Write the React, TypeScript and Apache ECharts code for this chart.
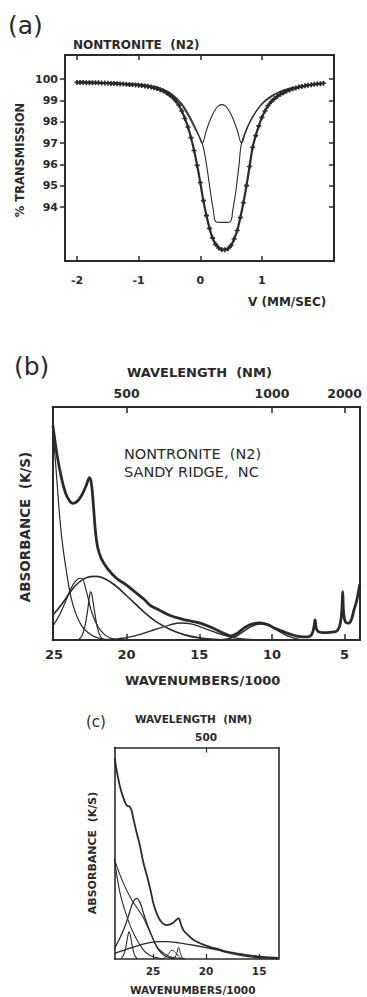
import React, { useEffect, useRef } from 'react';
import * as echarts from 'echarts';

const FONT = "'DejaVu Sans', 'Liberation Sans', sans-serif";
const INK = '#2a2a2a';

// ---------- (a) Mossbauer spectrum ----------
const aXTicks = [-2, -1, 0, 1];
const aYTicks = [94, 95, 96, 97, 98, 99, 100];
const mossVelocity = [
  -2.0, -1.95, -1.9, -1.85, -1.8, -1.75, -1.7, -1.65, -1.6, -1.55, -1.5, -1.45, -1.4, -1.35, -1.3, -1.25,
  -1.2, -1.15, -1.1, -1.05, -1.0, -0.95, -0.9, -0.85, -0.8, -0.75, -0.7, -0.65, -0.6, -0.55, -0.5, -0.45,
  -0.4, -0.35, -0.3, -0.25, -0.2, -0.15, -0.1, -0.05, 0.0, 0.05, 0.1, 0.15, 0.2, 0.25, 0.3, 0.35, 0.4, 0.45,
  0.5, 0.55, 0.6, 0.65, 0.7, 0.75, 0.8, 0.85, 0.9, 0.95, 1.0, 1.05, 1.1, 1.15, 1.2, 1.25, 1.3, 1.35, 1.4,
  1.45, 1.5, 1.55, 1.6, 1.65, 1.7, 1.75, 1.8, 1.85, 1.9, 1.95, 2.0,
];
const mossTransmission = [
  99.84, 99.84, 99.84, 99.83, 99.83, 99.83, 99.82, 99.82, 99.81, 99.81, 99.8, 99.79, 99.79, 99.78, 99.77, 99.76,
  99.75, 99.74, 99.73, 99.72, 99.71, 99.69, 99.67, 99.65, 99.62, 99.59, 99.55, 99.5, 99.44, 99.36, 99.26, 99.14,
  98.98, 98.78, 98.5, 98.15, 97.75, 97.25, 96.65, 95.95, 95.15, 94.3, 93.6, 93.0, 92.55, 92.25, 92.08, 92.0, 92.0, 92.05,
  92.2, 92.5, 92.9, 93.5, 94.2, 95.0, 95.9, 96.8, 97.35, 97.8, 98.2, 98.5, 98.75, 98.93, 99.07, 99.18, 99.28, 99.36, 99.43,
  99.49, 99.54, 99.58, 99.62, 99.65, 99.68, 99.71, 99.73, 99.75, 99.77, 99.78, 99.8,
];
const doubletNarrow: [number, number][] = [
  [-2.0, 99.86], [-1.5, 99.83], [-1.0, 99.75], [-0.8, 99.68], [-0.6, 99.52], [-0.45, 99.28], [-0.3, 98.85],
  [-0.2, 98.4], [-0.1, 97.85], [-0.03, 97.4], [0.03, 97.0], [0.1, 97.6], [0.17, 98.15], [0.24, 98.55],
  [0.3, 98.75], [0.35, 98.8], [0.4, 98.75], [0.46, 98.55], [0.53, 98.15], [0.6, 97.6], [0.67, 97.0],
  [0.73, 97.45], [0.8, 97.95], [0.9, 98.45], [1.0, 98.85], [1.15, 99.2], [1.35, 99.48], [1.6, 99.66], [2.0, 99.8],
];
const doubletWide: [number, number][] = [
  [-2.0, 99.86], [-1.0, 99.75], [-0.6, 99.5], [-0.4, 99.1], [-0.25, 98.55], [-0.1, 97.75], [0.03, 97.0],
  [0.1, 96.0], [0.16, 94.8], [0.21, 93.9], [0.26, 93.3], [0.37, 93.28], [0.48, 93.3], [0.53, 93.9],
  [0.58, 94.8], [0.63, 96.0], [0.67, 97.0], [0.78, 97.85], [0.9, 98.45], [1.05, 98.95], [1.3, 99.4],
  [1.6, 99.65], [2.0, 99.8],
];

// ---------- (b) reflectance spectrum ----------
const bBottomTicks = [25, 20, 15, 10, 5];
const bInnerTicks = [20, 15, 10, 5];
const bTopTicks = [20, 10, 5];
const bTopLabels = ['500', '1000', '2000'];
const bEnvelope: [number, number][] = [
  [25.07, 92], [24.8, 80], [24.5, 70], [24.2, 63], [23.9, 59.5], [23.7, 58.6], [23.4, 59.5], [23.1, 62],
  [22.8, 66], [22.55, 69.7], [22.42, 67], [22.3, 59], [22.15, 47], [22.0, 40], [21.75, 35], [21.3, 30.5],
  [20.7, 26.5], [20.0, 23.5], [19.4, 20.5], [18.8, 17.5], [18.4, 15], [17.8, 13], [17.0, 10.5], [16.2, 9],
  [15.4, 7.9], [14.6, 6.5], [13.8, 4.3], [13.2, 2.6], [12.85, 1.8], [12.4, 2.8], [11.95, 5], [11.4, 6.8],
  [10.82, 7.3], [10.3, 6.6], [9.8, 5], [9.22, 3.6], [8.7, 2.4], [8.29, 1.7], [7.6, 1.3], [7.25, 2.5],
  [7.1, 6], [7.03, 8.6], [6.95, 5], [6.81, 3.6], [6.5, 3.2], [6.0, 3.3], [5.55, 3.8], [5.3, 7], [5.18, 14],
  [5.13, 20.7], [5.07, 12], [4.95, 7.8], [4.75, 7.2], [4.55, 8.5], [4.35, 13], [4.2, 16], [4.1, 19], [3.95, 24],
];
const bEdge: [number, number][] = [
  [25.07, 90], [24.84, 72], [24.5, 46], [24.08, 27], [23.69, 15], [23.12, 6.4], [22.43, 2.1], [21.8, 0.6],
  [21.0, 0.1], [20.0, 0],
];
const bBand23: [number, number][] = [
  [25.07, 6], [24.6, 11], [24.2, 16.5], [23.8, 22.5], [23.4, 26], [23.12, 26.5], [22.77, 21], [22.43, 12.5],
  [22.0, 6], [21.5, 2.2], [21.0, 0.6], [20.3, 0],
];
const bBand22: [number, number][] = [
  [25.07, 10.7], [24.5, 15], [24.0, 19.5], [23.5, 23.5], [23.0, 26], [22.5, 27.2], [22.1, 27.3], [21.5, 26.3],
  [20.8, 23.5], [20.0, 19], [19.4, 15.5], [18.8, 12], [18.0, 8], [17.0, 4.5], [16.0, 2.2], [15.0, 0.9],
  [14.0, 0.3], [13.0, 0],
];
const bSharp22: [number, number][] = [
  [23.3, 0.2], [23.1, 1.5], [22.9, 5], [22.7, 12], [22.55, 19], [22.47, 20.7], [22.38, 19], [22.2, 12],
  [22.0, 5], [21.8, 1.5], [21.6, 0.3], [21.3, 0],
];
const bBand16: [number, number][] = [
  [21.5, 0], [21.0, 0.3], [20.0, 1], [19.0, 2.5], [18.0, 4.6], [17.0, 6.5], [16.3, 7.3], [15.5, 6.8],
  [14.5, 4.7], [13.5, 2.4], [12.5, 0.8], [11.5, 0.2], [11.0, 0],
];
const bBand11: [number, number][] = [
  [13.8, 0], [13.2, 0.3], [12.5, 1.5], [12.0, 3.5], [11.5, 5.5], [11.0, 6.7], [10.6, 6.9], [10.2, 6.3],
  [9.7, 4.5], [9.2, 2.6], [8.7, 1.2], [8.2, 0.4], [7.7, 0],
];

// ---------- (c) enlarged visible region ----------
const cBottomTicks = [25, 20, 15];
const cTopTicks = [20];
const cTopLabels = ['500'];
const cEnvelope: [number, number][] = [
  [28.6, 95], [28.3, 86], [28.0, 79.5], [27.7, 75], [27.45, 72.5], [27.2, 72], [27.0, 70], [26.83, 66],
  [26.5, 59], [26.2, 53], [25.9, 45.5], [25.57, 39.5], [25.25, 33], [24.94, 26], [24.6, 21], [24.31, 18.2],
  [24.0, 16.5], [23.68, 16], [23.35, 16.5], [23.06, 17.3], [22.8, 18.5], [22.58, 19.2], [22.4, 17],
  [22.26, 15], [22.11, 13.5], [21.6, 10.8], [21.17, 9], [20.5, 7.3], [19.59, 5.6], [18.96, 4.8],
  [18.02, 3.5], [17.2, 2.7], [16.45, 2.1], [15.6, 1.5], [14.88, 1.1], [13.93, 0.8], [13.2, 0.5],
];
const cEdgeSteep: [number, number][] = [
  [28.62, 47], [28.09, 31], [27.45, 20], [27.0, 14], [26.5, 9], [26.0, 5], [25.6, 2.7], [25.0, 1.1], [24.5, 0.5], [24.0, 0],
];
const cEdgeWide: [number, number][] = [
  [28.62, 47], [27.8, 36], [27.0, 28], [26.2, 22], [25.9, 19.5], [25.3, 13], [24.62, 5.8], [24.0, 2.8],
  [23.37, 1.1], [22.5, 0.3], [22.0, 0],
];
const cBand26: [number, number][] = [
  [28.62, 5], [28.1, 10], [27.6, 16], [27.2, 22], [26.9, 26.5], [26.55, 28.7], [26.2, 26.5], [25.89, 21.6],
  [25.4, 14.5], [24.94, 9], [24.5, 4.5], [24.0, 1.9], [23.5, 0.6], [23.0, 0.1],
];
const cSharp27: [number, number][] = [
  [28.0, 0.3], [27.8, 1.5], [27.6, 4.5], [27.4, 10], [27.25, 12.9], [27.1, 10.5], [26.9, 5], [26.7, 1.5], [26.5, 0.3],
];
const cBroad: [number, number][] = [
  [28.62, 2.7], [27.5, 4.5], [26.5, 6.2], [25.5, 7.5], [24.5, 8.2], [23.7, 8.2], [22.8, 7.8], [22.0, 7.2],
  [21.17, 6.5], [20.0, 5.4], [18.96, 4.3], [18.0, 3], [17.0, 1.9], [16.0, 1.1], [15.0, 0.6], [14.0, 0.3], [13.2, 0.1],
];
const cSmall23: [number, number][] = [
  [24.0, 0.2], [23.6, 2], [23.2, 4.2], [22.8, 2.5], [22.4, 0.5], [22.1, 0],
];
const cSharp22: [number, number][] = [
  [23.0, 0.2], [22.8, 2], [22.58, 5.5], [22.4, 2.5], [22.2, 0.3], [22.0, 0],
];

const axisLineStyle = (w: number) => ({ show: true, onZero: false, lineStyle: { color: INK, width: w } });

function txt(text: string, x: number, y: number, size: number, bold: boolean, opts: any = {}) {
  return {
    type: 'text',
    x,
    y,
    rotation: opts.rotation || 0,
    silent: true,
    style: {
      text,
      fill: INK,
      font: `${bold ? 'bold ' : ''}${size}px ${FONT}`,
      align: opts.align || 'left',
      textAlign: opts.align || 'left',
      verticalAlign: 'middle',
      textVerticalAlign: 'middle',
    },
  };
}

function thin(data: [number, number][], idx: number, width = 1.2) {
  return {
    type: 'line',
    xAxisIndex: idx,
    yAxisIndex: idx,
    data,
    smooth: 0.4,
    showSymbol: false,
    silent: true,
    lineStyle: { color: INK, width },
  };
}

export default function App() {
  const ref = useRef<HTMLDivElement>(null);
  useEffect(() => {
    if (!ref.current) return;
    const chart = echarts.init(ref.current, null, { renderer: 'svg' });
    const labelFont = { color: INK, fontFamily: FONT, fontWeight: 'bold' as const };

    const option: any = {
      animation: false,
      backgroundColor: '#ffffff',
      grid: [
        { left: 65, top: 55, width: 269, height: 206, outerBoundsMode: 'none' },
        { left: 52.5, top: 407, width: 307.5, height: 233, outerBoundsMode: 'none' },
        { left: 114.5, top: 747.5, width: 164, height: 211.5, outerBoundsMode: 'none' },
      ],
      xAxis: [
        {
          type: 'value', gridIndex: 0, position: 'bottom', min: -2.195, max: 2.17,
          axisLine: axisLineStyle(2), splitLine: { show: false },
          axisTick: { show: true, inside: true, length: 5, customValues: aXTicks, lineStyle: { color: INK, width: 1.5 } },
          axisLabel: { ...labelFont, fontSize: 11, margin: 14, customValues: aXTicks },
        },
        {
          type: 'value', gridIndex: 1, position: 'bottom', min: 3.94, max: 25.1, inverse: true,
          axisLine: axisLineStyle(2), splitLine: { show: false },
          axisTick: { show: true, inside: true, length: 6, customValues: bInnerTicks, lineStyle: { color: INK, width: 1.5 } },
          axisLabel: { ...labelFont, fontSize: 13, margin: 8, customValues: bBottomTicks },
        },
        {
          type: 'value', gridIndex: 2, position: 'bottom', min: 13.18, max: 28.62, inverse: true,
          axisLine: axisLineStyle(1.6), splitLine: { show: false },
          axisTick: { show: true, inside: true, length: 5, customValues: cBottomTicks, lineStyle: { color: INK, width: 1.2 } },
          axisLabel: { ...labelFont, fontSize: 10.5, margin: 6, customValues: cBottomTicks },
        },
        {
          type: 'value', gridIndex: 0, position: 'top', min: -2.195, max: 2.17,
          axisLine: axisLineStyle(2), splitLine: { show: false },
          axisTick: { show: true, inside: true, length: 5, customValues: aXTicks, lineStyle: { color: INK, width: 1.5 } },
          axisLabel: { show: false },
        },
        {
          type: 'value', gridIndex: 1, position: 'top', min: 3.94, max: 25.1, inverse: true,
          axisLine: axisLineStyle(2), splitLine: { show: false },
          axisTick: { show: true, inside: true, length: 6, customValues: bTopTicks, lineStyle: { color: INK, width: 1.5 } },
          axisLabel: {
            ...labelFont, fontSize: 12.5, margin: 7, customValues: bTopTicks,
            formatter: (v: number) => bTopLabels[bTopTicks.indexOf(v)] ?? '',
          },
        },
        {
          type: 'value', gridIndex: 2, position: 'top', min: 13.18, max: 28.62, inverse: true,
          axisLine: axisLineStyle(1.6), splitLine: { show: false },
          axisTick: { show: true, inside: true, length: 5, customValues: cTopTicks, lineStyle: { color: INK, width: 1.2 } },
          axisLabel: {
            ...labelFont, fontSize: 10.5, margin: 5, customValues: cTopTicks,
            formatter: (v: number) => cTopLabels[cTopTicks.indexOf(v)] ?? '',
          },
        },
      ],
      yAxis: [
        {
          type: 'value', gridIndex: 0, position: 'left', min: 91.47, max: 101.125,
          axisLine: axisLineStyle(2), splitLine: { show: false },
          axisTick: { show: true, inside: false, length: 5, customValues: aYTicks, lineStyle: { color: INK, width: 1.5 } },
          axisLabel: { ...labelFont, fontSize: 11, margin: 7, customValues: aYTicks },
        },
        {
          type: 'value', gridIndex: 1, position: 'left', min: 0, max: 100,
          axisLine: axisLineStyle(2), splitLine: { show: false }, axisTick: { show: false }, axisLabel: { show: false },
        },
        {
          type: 'value', gridIndex: 2, position: 'left', min: 0, max: 100,
          axisLine: axisLineStyle(1.6), splitLine: { show: false }, axisTick: { show: false }, axisLabel: { show: false },
        },
        {
          type: 'value', gridIndex: 0, position: 'right', min: 91.47, max: 101.125,
          axisLine: axisLineStyle(2), splitLine: { show: false },
          axisTick: { show: true, inside: true, length: 5, customValues: aYTicks, lineStyle: { color: INK, width: 1.5 } },
          axisLabel: { show: false },
        },
        {
          type: 'value', gridIndex: 1, position: 'right', min: 0, max: 100,
          axisLine: axisLineStyle(2), splitLine: { show: false }, axisTick: { show: false }, axisLabel: { show: false },
        },
        {
          type: 'value', gridIndex: 2, position: 'right', min: 0, max: 100,
          axisLine: axisLineStyle(1.6), splitLine: { show: false }, axisTick: { show: false }, axisLabel: { show: false },
        },
      ],
      series: [
        {
          type: 'line', xAxisIndex: 0, yAxisIndex: 0, silent: true,
          data: mossVelocity.map((v, i) => [v, mossTransmission[i]]),
          symbol: 'path://M-1,-3H1V-1H3V1H1V3H-1V1H-3V-1H-1Z', symbolSize: 5, showSymbol: true, showAllSymbol: true,
          itemStyle: { color: INK }, lineStyle: { color: INK, width: 2.2 }, smooth: 0.3,
        },
        thin(doubletNarrow, 0, 1.1),
        thin(doubletWide, 0, 1.1),
        thin(bEnvelope, 1, 2.8),
        thin(bEdge, 1),
        thin(bBand23, 1),
        thin(bBand22, 1, 1.6),
        thin(bSharp22, 1),
        thin(bBand16, 1, 1.4),
        thin(bBand11, 1, 1.4),
        thin(cEnvelope, 2, 1.8),
        thin(cEdgeSteep, 2, 1.1),
        thin(cEdgeWide, 2, 1.1),
        thin(cBand26, 2, 1.3),
        thin(cSharp27, 2, 1.1),
        thin(cBroad, 2, 1.3),
        thin(cSmall23, 2, 1.0),
        thin(cSharp22, 2, 1.0),
      ],
      graphic: [
        txt('(a)', 8, 25, 25, false),
        txt('NONTRONITE  (N2)', 73, 45, 12, true),
        txt('% TRANSMISSION', 20, 160, 11.5, true, { rotation: Math.PI / 2, align: 'center' }),
        txt('V (MM/SEC)', 248, 302, 12, true),
        txt('(b)', 14, 366, 25, false),
        txt('WAVELENGTH  (NM)', 127, 372, 13, true),
        txt('NONTRONITE  (N2)', 124, 454, 14.5, false),
        txt('SANDY RIDGE,  NC', 124, 472, 14.5, false),
        txt('WAVENUMBERS/1000', 125, 680, 13, true),
        txt('ABSORBANCE  (K/S)', 25, 527, 13.5, true, { rotation: Math.PI / 2, align: 'center' }),
        txt('(c)', 86, 722, 15, false),
        txt('WAVELENGTH  (NM)', 135, 719, 10.5, true),
        txt('WAVENUMBERS/1000', 130, 990, 10.5, true),
        txt('ABSORBANCE  (K/S)', 92, 853, 11, true, { rotation: Math.PI / 2, align: 'center' }),
      ],
    };
    chart.setOption(option);
    return () => chart.dispose();
  }, []);

  return (
    <div
      ref={ref}
      style={{ position: 'absolute', left: 0, top: 0, width: 367, height: 997, background: '#fff' }}
    />
  );
}
